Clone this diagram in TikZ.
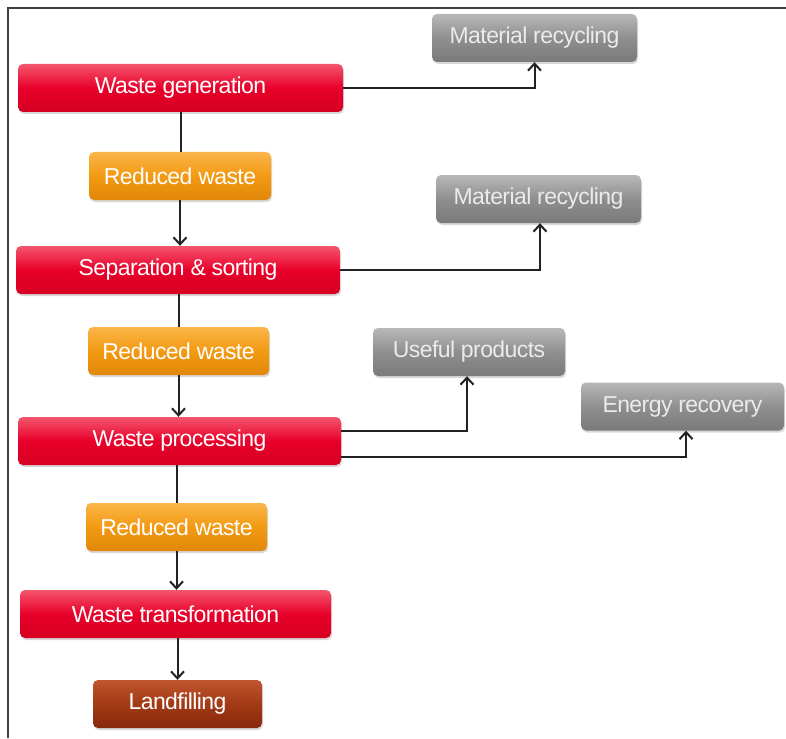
\documentclass[tikz,border=0pt]{standalone}
\usepackage{fontspec}
\setmainfont{Liberation Sans}
\usetikzlibrary{arrows.meta,shadows}
\definecolor{redT}{HTML}{F5566E}
\definecolor{redM}{HTML}{E8002A}
\definecolor{redB}{HTML}{D60022}
\definecolor{orT}{HTML}{FBB54A}
\definecolor{orM}{HTML}{F29A12}
\definecolor{orB}{HTML}{E2870A}
\definecolor{grT}{HTML}{B8B8B8}
\definecolor{grM}{HTML}{8F8F8F}
\definecolor{grB}{HTML}{7A7A7A}
\definecolor{brT}{HTML}{C0552E}
\definecolor{brM}{HTML}{A23A16}
\definecolor{brB}{HTML}{86280C}
\definecolor{lineC}{HTML}{222222}
\tikzset{
  box/.style={rounded corners=5pt, minimum height=48pt, inner sep=0pt,
    text=white, font=\addfontfeature{LetterSpace=-2.5}\fontsize{23}{27}\selectfont,
    drop shadow={opacity=0.3, shadow xshift=1pt, shadow yshift=-2pt}},
  redbox/.style={box, top color=redT, bottom color=redB, middle color=redM},
  orbox/.style={box, top color=orT, bottom color=orB, middle color=orM},
  grbox/.style={box, top color=grT, bottom color=grB, middle color=grM, text=white!92!black},
  brbox/.style={box, top color=brT, bottom color=brB, middle color=brM},
  conn/.style={draw=lineC, line width=2pt},
  arr/.style={conn, -{Straight Barb[length=7pt,width=13pt,line width=2pt]}},
}
\begin{document}
\begin{tikzpicture}[x=1pt,y=-1pt]
\useasboundingbox (0,0) rectangle (786,738);
\fill[white] (0,0) rectangle (786,738);
\draw[line width=1.8pt, draw=black!75] (8,738) -- (8,8) -- (786,8);

\node[redbox, minimum width=325pt] (wg) at (180.5,88) {Waste generation};
\node[grbox, minimum width=205pt] (mr1) at (534.5,38) {Material recycling};
\node[orbox, minimum width=182pt] (rw1) at (180,176) {Reduced waste};
\node[redbox, minimum width=324pt] (ss) at (178,270) {Separation \& sorting};
\node[grbox, minimum width=205pt] (mr2) at (538.5,199) {Material recycling};
\node[orbox, minimum width=181pt] (rw2) at (178.5,351) {Reduced waste};
\node[redbox, minimum width=323pt] (wp) at (179.5,441) {Waste processing};
\node[grbox, minimum width=192pt] (up) at (469,352) {Useful products};
\node[grbox, minimum width=203pt] (er) at (682.5,406.5) {Energy recovery};
\node[orbox, minimum width=181pt] (rw3) at (176.5,527) {Reduced waste};
\node[redbox, minimum width=311pt] (wt) at (175.5,614) {Waste transformation};
\node[brbox, minimum width=169pt] (lf) at (177.5,704) {Landfilling};

\draw[arr] (wg.east) -| (mr1.south);
\draw[conn] (wg.south) -- (wg.south |- rw1.north);
\draw[arr] (rw1.south) -- (rw1.south |- ss.north);
\draw[arr] (ss.east) -| ([xshift=1.5pt]mr2.south);
\draw[conn] (rw2.north |- ss.south) -- (rw2.north);
\draw[arr] (rw2.south) -- (rw2.south |- wp.north);
\draw[arr] ([yshift=10pt]wp.east) -| ([xshift=-2pt]up.south);
\draw[arr] ([yshift=-16pt]wp.east) -| ([xshift=3.5pt]er.south);
\draw[conn] (rw3.north |- wp.south) -- (rw3.north);
\draw[arr] (rw3.south) -- (rw3.south |- wt.north);
\draw[arr] (lf.north |- wt.south) -- (lf.north);
\end{tikzpicture}
\end{document}
